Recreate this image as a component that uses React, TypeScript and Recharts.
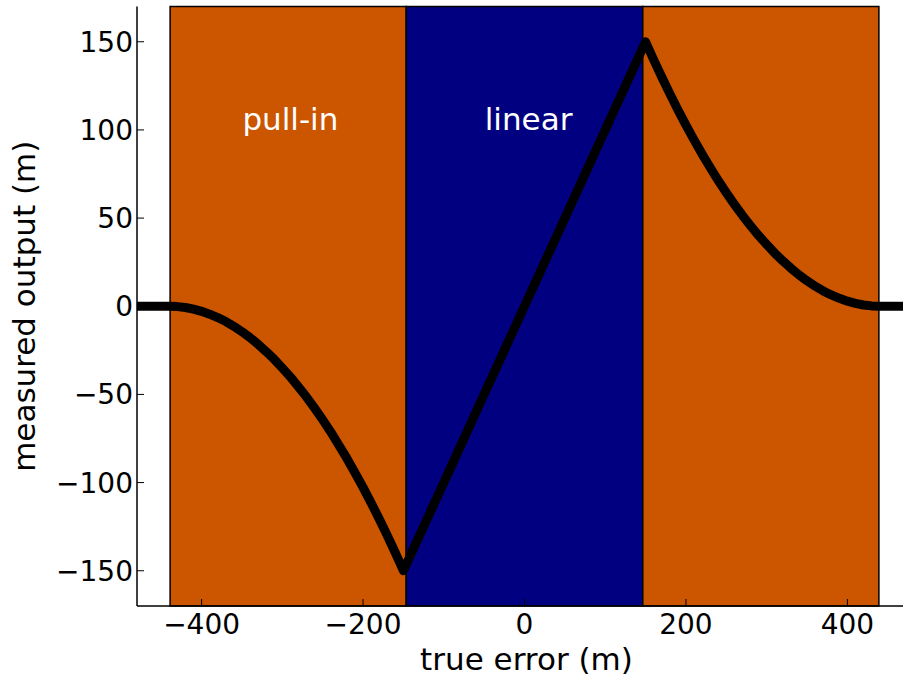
import { ComposedChart, Line, XAxis, YAxis, ReferenceArea, ReferenceDot } from 'recharts';

// true error (m) sampled along the curve
const trueError = [
  -480, -460, -440, -430, -420, -410, -400, -390, -380, -370, -360, -350, -340, -330, -320, -310,
  -300, -290, -280, -270, -260, -250, -240, -230, -220, -210, -200, -190, -180, -170, -160, -150,
  -100, -50, 0, 50, 100,
  150, 160, 170, 180, 190, 200, 210, 220, 230, 240, 250, 260, 270, 280, 290, 300,
  310, 320, 330, 340, 350, 360, 370, 380, 390, 400, 410, 420, 430, 440, 460, 480,
];

const measuredOutput = [
  0, 0, 0, -0.2, -0.7, -1.6, -2.9, -4.5, -6.4, -8.7, -11.4, -14.4, -17.8, -21.6, -25.7, -30.1,
  -35.0, -40.1, -45.7, -51.5, -57.8, -64.4, -71.3, -78.7, -86.3, -94.4, -102.7, -111.5, -120.6, -130.0, -139.8, -150,
  -100, -50, 0, 50, 100,
  150, 139.8, 130.0, 120.6, 111.5, 102.7, 94.4, 86.3, 78.7, 71.3, 64.4, 57.8, 51.5, 45.7, 40.1, 35.0,
  30.1, 25.7, 21.6, 17.8, 14.4, 11.4, 8.7, 6.4, 4.5, 2.9, 1.6, 0.7, 0.2, 0, 0, 0,
];

// shaded regions
const regionStart = [-439, -146.5, 146.5];
const regionEnd = [-146.5, 146.5, 439];
const regionColor = ['#cc5500', '#000080', '#cc5500'];

// region annotations
const noteText = ['pull-in', 'linear'];
const noteX = [-290, 5];
const noteY = [100, 100];

const xTicks = [-400, -200, 0, 200, 400];
const yTicks = [-150, -100, -50, 0, 50, 100, 150];

const data = trueError.map((x, i) => ({ x, y: measuredOutput[i] }));

const FONT = '"DejaVu Sans", sans-serif';
const fmt = (v: number) => (v < 0 ? '\u2212' + Math.abs(v) : String(v));

const BottomTick = ({ x, y, payload }: any) => (
  <g>
    <line x1={x} y1={y} x2={x} y2={y - 7} stroke="#000" strokeWidth={1} />
    <text x={x} y={y + 28} textAnchor="middle" fontSize={28} fontFamily={FONT} fill="#000">{fmt(payload.value)}</text>
  </g>
);

const TopTick = ({ x, y }: any) => (
  <line x1={x} y1={y} x2={x} y2={y + 7} stroke="#000" strokeWidth={1} />
);

const LeftTick = ({ x, y, payload }: any) => (
  <g>
    <line x1={x} y1={y} x2={x + 7} y2={y} stroke="#000" strokeWidth={1} />
    <text x={x - 4} y={y} dy="0.36em" textAnchor="end" fontSize={28} fontFamily={FONT} fill="#000">{fmt(payload.value)}</text>
  </g>
);

const XLabel = ({ viewBox }: any) => (
  <text x={viewBox.x + viewBox.width / 2 + 2} y={viewBox.y + 64} textAnchor="middle" fontSize={31} fontFamily={FONT} fill="#000">
    true error (m)
  </text>
);

const YLabel = ({ viewBox }: any) => {
  const cx = 35, cy = viewBox.y + viewBox.height / 2;
  return (
    <text x={cx} y={cy} transform={`rotate(-90, ${cx}, ${cy})`} textAnchor="middle" fontSize={31} fontFamily={FONT} fill="#000">
      measured output (m)
    </text>
  );
};

const Note = (text: string) => (p: any) => (
  <text x={p.cx} y={p.cy} textAnchor="middle" fontSize={31} fontFamily={FONT} fill="#fff">{text}</text>
);

export default function App() {
  return (
    <div style={{ position: 'absolute', left: 0, top: 0, width: 903, height: 681, overflow: 'hidden', background: '#fff' }}>
      <ComposedChart width={932} height={681} data={data} margin={{ top: 6.5, right: 20, bottom: 0, left: 0 }}>
        {regionStart.map((s, i) => (
          <ReferenceArea key={i} x1={s} x2={regionEnd[i]} fill={regionColor[i]} fillOpacity={1} stroke="#000" strokeWidth={1.5} />
        ))}
        <XAxis dataKey="x" type="number" domain={[-480, 480]} ticks={xTicks} allowDataOverflow
          height={75} tickSize={0} tickMargin={0} tickLine={false} tick={<BottomTick />}
          axisLine={{ stroke: '#000', strokeWidth: 1.5 }} label={<XLabel />} />
        <XAxis xAxisId="top" orientation="top" dataKey="x" type="number" domain={[-480, 480]} ticks={xTicks} allowDataOverflow
          height={0} tickSize={0} tickMargin={0} tickLine={false} tick={<TopTick />}
          axisLine={{ stroke: '#000', strokeWidth: 1.5 }} />
        <YAxis type="number" domain={[-170, 170]} ticks={yTicks} allowDataOverflow width={137}
          tickSize={0} tickMargin={0} tickLine={false} tick={<LeftTick />}
          axisLine={{ stroke: '#000', strokeWidth: 1.5 }} label={<YLabel />} />
        <Line dataKey="y" type="linear" stroke="#000" strokeWidth={9} dot={false} activeDot={false}
          strokeLinejoin="round" strokeLinecap="butt" isAnimationActive={false} />
        {noteText.map((t, i) => (
          <ReferenceDot key={t} x={noteX[i]} y={noteY[i]} r={0} shape={Note(t)} />
        ))}
      </ComposedChart>
    </div>
  );
}
